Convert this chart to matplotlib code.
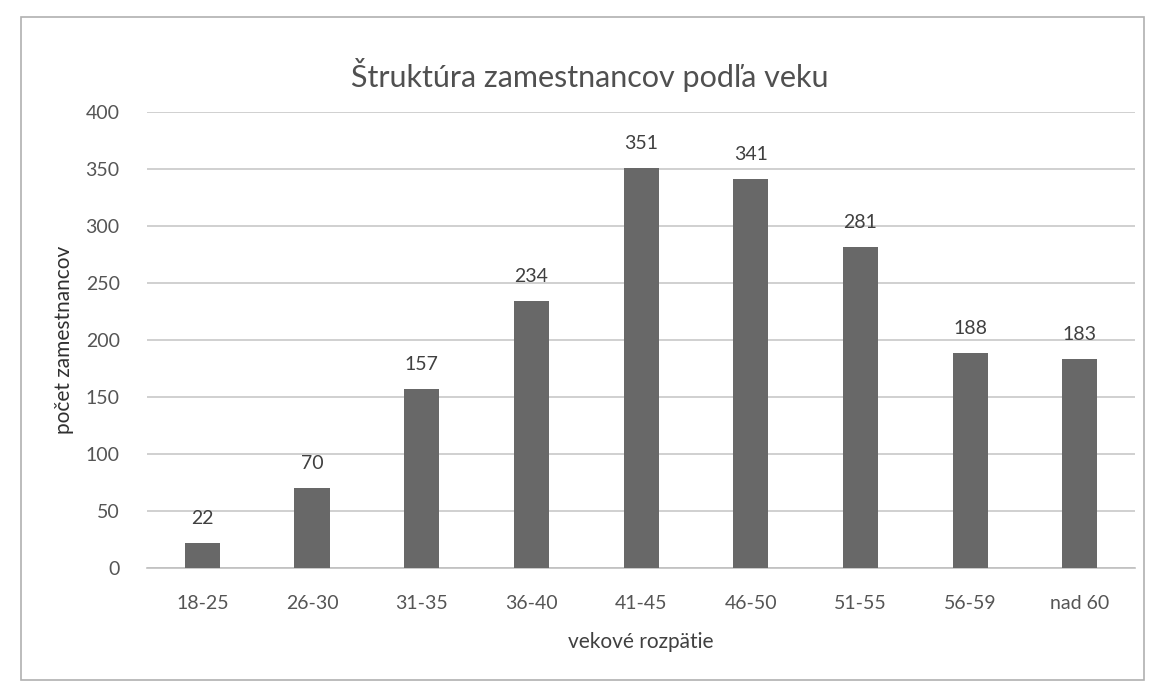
import matplotlib.pyplot as plt
from matplotlib.patches import Rectangle

# data
categories = ["18-25", "26-30", "31-35", "36-40", "41-45", "46-50", "51-55", "56-59", "nad 60"]
values = [22, 70, 157, 234, 351, 341, 281, 188, 183]
yticks = [0, 50, 100, 150, 200, 250, 300, 350, 400]

plt.rcParams['font.family'] = ['Lato', 'DejaVu Sans']

fig = plt.figure(figsize=(11.52, 6.94), dpi=100)
ax = fig.add_axes([0.128, 0.182, 0.857, 0.657])

x = range(len(categories))
bars = ax.bar(x, values, width=0.32, color="#686868", zorder=3)
for xi, v in zip(x, values):
    ax.text(xi, v + 14, str(v), ha="center", va="bottom", fontsize=14, color="#404040")

ax.set_xlim(-0.5, len(categories) - 0.5)
ax.set_ylim(0, 400)
ax.set_yticks(yticks)
ax.set_xticks(list(x))
ax.set_xticklabels(categories)
ax.tick_params(axis="both", length=0, labelsize=14, labelcolor="#555555")
ax.tick_params(axis="x", pad=20)
ax.tick_params(axis="y", pad=20)
ax.grid(axis="y", color="#c8c8c8", linewidth=1.2, zorder=0)
for s in ["top", "right", "left"]:
    ax.spines[s].set_visible(False)
ax.spines["bottom"].set_color("#c0c0c0")
ax.spines["bottom"].set_linewidth(1.2)

ax.set_xlabel("vekové rozpätie", fontsize=15, color="#404040", labelpad=14)
ax.set_ylabel("počet zamestnancov", fontsize=15, color="#303030", labelpad=8)
fig.text(0.512, 0.892, "Štruktúra zamestnancov podľa veku", ha="center", va="center",
         fontsize=22, color="#505050")

# outer chart frame
fig.patches.append(Rectangle((0.018, 0.02), 0.975, 0.955, transform=fig.transFigure,
                             fill=False, edgecolor="#b0b0b0", linewidth=1.2))

fig.savefig("out.png", dpi=100)
